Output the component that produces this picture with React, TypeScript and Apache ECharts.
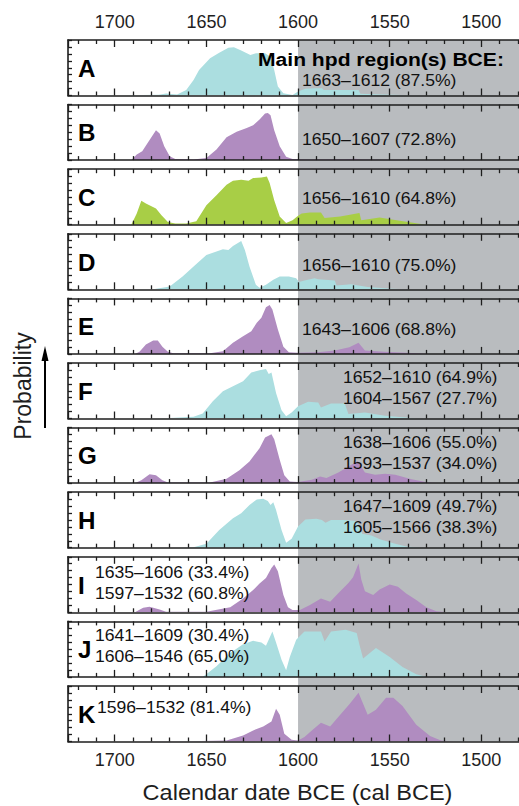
import React, { useEffect, useRef } from 'react';
import * as echarts from 'echarts';

const panelLabels = ['A', 'B', 'C', 'D', 'E', 'F', 'G', 'H', 'I', 'J', 'K'];

const panelA: [number, number][] = [[1725.5,0],[1700,0],[1694,0.005],[1685,0.01],[1676,0.015],[1672,0.035],[1669,0.025],[1666,0.02],[1661,0.1],[1657,0.28],[1654,0.46],[1648,0.67],[1643,0.77],[1638,0.86],[1635,0.87],[1631,0.81],[1626,0.73],[1623,0.76],[1618,0.76],[1615,0.7],[1613,0.46],[1611,0.16],[1608,0.04],[1603,0.01],[1600,0.07],[1596,0.12],[1591,0.13],[1587,0.13],[1586,0.1],[1575,0.1],[1567,0.1],[1566,0.03],[1555,0.02],[1548,0.015],[1540,0.005],[1532,0],[1450,0]];
const panelB: [number, number][] = [[1725.5,0],[1691,0],[1688,0.1],[1685,0.16],[1681,0.36],[1677.5,0.54],[1675.5,0.48],[1673,0.25],[1670,0.07],[1667,0.02],[1657,0.01],[1650,0.04],[1644.5,0.19],[1639,0.41],[1633.5,0.51],[1628,0.58],[1624.5,0.63],[1621,0.73],[1618,0.84],[1616.5,0.85],[1615,0.81],[1613,0.54],[1610,0.25],[1606.5,0.06],[1603,0.02],[1595,0.01],[1575,0.015],[1569,0.025],[1565,0.012],[1545,0.008],[1535,0],[1450,0]];
const panelC: [number, number][] = [[1725.5,0],[1691,0],[1688,0.2],[1685.5,0.43],[1683,0.38],[1677.5,0.29],[1674.5,0.17],[1671,0.05],[1667,0.02],[1661,0.02],[1655.5,0.06],[1650,0.35],[1644.5,0.53],[1639,0.72],[1635.5,0.79],[1631,0.81],[1627,0.79],[1624.5,0.84],[1620,0.85],[1617,0.87],[1615.5,0.75],[1613,0.44],[1610,0.15],[1606.5,0.03],[1603,0.08],[1600,0.16],[1598,0.2],[1593.5,0.22],[1587.5,0.22],[1585.5,0.12],[1577,0.15],[1566.5,0.21],[1565.5,0.08],[1555.5,0.13],[1544.5,0.07],[1532,0.01],[1526,0],[1450,0]];
const panelD: [number, number][] = [[1725.5,0],[1679,0],[1670,0.05],[1663,0.23],[1657,0.41],[1650,0.62],[1644.5,0.68],[1641,0.72],[1638,0.71],[1635.5,0.78],[1631,0.87],[1629,0.71],[1626.5,0.41],[1623,0.08],[1621,0.03],[1617.5,0.08],[1613.5,0.17],[1610,0.23],[1605,0.23],[1601,0.2],[1599.5,0.13],[1596.5,0.16],[1591,0.2],[1589,0.18],[1580,0.16],[1579,0.07],[1571,0.09],[1562,0.04],[1549,0.01],[1540,0],[1450,0]];
const panelE: [number, number][] = [[1725.5,0],[1689,0],[1686.5,0.04],[1683,0.17],[1679,0.24],[1676.5,0.24],[1674,0.13],[1671,0.04],[1668,0.01],[1648,0.01],[1641,0.05],[1635.5,0.2],[1630,0.32],[1625.5,0.41],[1622.5,0.56],[1620,0.65],[1617.5,0.84],[1615.5,0.88],[1614,0.8],[1611,0.44],[1608,0.13],[1605,0.03],[1600,0.02],[1589,0.03],[1580,0.06],[1572,0.12],[1567,0.2],[1563.5,0.06],[1553,0.04],[1535,0.01],[1528,0],[1450,0]];
const panelF: [number, number][] = [[1725.5,0],[1678,0],[1670,0.01],[1657,0.03],[1652,0.09],[1646.5,0.31],[1641,0.49],[1635.5,0.58],[1630,0.67],[1625.5,0.83],[1621,0.87],[1617.5,0.89],[1616,0.8],[1614.5,0.83],[1612,0.46],[1609,0.15],[1606.5,0.04],[1603.5,0.11],[1600,0.22],[1594.5,0.3],[1589,0.29],[1587.5,0.2],[1582,0.27],[1574.5,0.27],[1572.5,0.08],[1563.5,0.11],[1552.5,0.05],[1538,0.01],[1532,0],[1450,0]];
const panelG: [number, number][] = [[1725.5,0],[1689,0],[1685.5,0.05],[1681,0.16],[1677.5,0.14],[1674,0.05],[1671,0.01],[1648,0.01],[1639,0.08],[1632,0.23],[1626.5,0.39],[1621,0.63],[1618,0.82],[1614.5,0.88],[1613,0.79],[1610,0.42],[1607.5,0.14],[1604.5,0.03],[1600,0.02],[1592.5,0.06],[1588,0.12],[1584.5,0.09],[1578,0.19],[1572,0.31],[1567.5,0.4],[1563.5,0.19],[1558,0.15],[1552.5,0.17],[1547,0.15],[1538,0.07],[1529,0.01],[1522,0],[1450,0]];
const panelH: [number, number][] = [[1725.5,0],[1665,0],[1657,0.01],[1650,0.07],[1643,0.32],[1635.5,0.53],[1631,0.62],[1626.5,0.77],[1622.5,0.87],[1619,0.88],[1616.5,0.84],[1615,0.77],[1613.5,0.82],[1612,0.68],[1609,0.32],[1606.5,0.09],[1603.5,0.16],[1600,0.38],[1596,0.51],[1590,0.52],[1587,0.5],[1585,0.45],[1582,0.5],[1575,0.5],[1568,0.48],[1565,0.25],[1560,0.22],[1555,0.15],[1548,0.08],[1541,0.02],[1532,0],[1450,0]];
const panelI: [number, number][] = [[1725.5,0],[1689,0],[1684.5,0.08],[1681,0.1],[1675.5,0.05],[1672,0.01],[1650,0.01],[1637,0.09],[1630,0.25],[1624.5,0.4],[1621,0.52],[1617.5,0.62],[1614.5,0.8],[1613,0.86],[1611,0.74],[1608,0.31],[1605.5,0.09],[1603,0.04],[1599,0.04],[1593.5,0.13],[1587.5,0.25],[1582.5,0.19],[1577,0.38],[1572.5,0.53],[1570,0.63],[1567,0.88],[1565.5,0.59],[1563.5,0.38],[1559,0.31],[1555.5,0.41],[1550,0.5],[1545.5,0.46],[1541,0.34],[1535.5,0.22],[1530,0.09],[1524.5,0.02],[1518,0],[1450,0]];
const panelJ: [number, number][] = [[1725.5,0],[1652,0],[1644.5,0.19],[1637,0.43],[1630,0.59],[1624.5,0.65],[1620,0.62],[1617.5,0.56],[1614,0.82],[1612,0.62],[1609,0.31],[1606.5,0.12],[1604.5,0.36],[1601,0.67],[1596.5,0.82],[1587.5,0.82],[1585.5,0.64],[1582,0.82],[1574,0.85],[1568,0.79],[1566.5,0.58],[1564.5,0.33],[1557.5,0.52],[1550,0.36],[1543,0.18],[1535.5,0.05],[1530,0],[1450,0]];
const panelK: [number, number][] = [[1725.5,0],[1683,0],[1660,0.005],[1639,0.02],[1630,0.11],[1624.5,0.2],[1619,0.27],[1614.5,0.36],[1612,0.59],[1610,0.48],[1607.5,0.14],[1603.5,0.03],[1600,0.02],[1596.5,0.08],[1592.5,0.2],[1587.5,0.34],[1582.5,0.27],[1577,0.48],[1572,0.67],[1567,0.88],[1562,0.48],[1557.5,0.57],[1552,0.79],[1548,0.79],[1543,0.64],[1535.5,0.3],[1528,0.1],[1522,0.02],[1515,0],[1450,0]];

const panelData = [panelA, panelB, panelC, panelD, panelE, panelF, panelG, panelH, panelI, panelJ, panelK];

const CYAN = '#abdee0';
const PURPLE = '#b08cc0';
const GREEN = '#a8ce46';
const panelColors = [CYAN, PURPLE, GREEN, CYAN, PURPLE, CYAN, PURPLE, CYAN, PURPLE, CYAN, PURPLE];

const hpdRanges: string[][] = [
  ['1663–1612 (87.5%)'],
  ['1650–1607 (72.8%)'],
  ['1656–1610 (64.8%)'],
  ['1656–1610 (75.0%)'],
  ['1643–1606 (68.8%)'],
  ['1652–1610 (64.9%)', '1604–1567 (27.7%)'],
  ['1638–1606 (55.0%)', '1593–1537 (34.0%)'],
  ['1647–1609 (49.7%)', '1605–1566 (38.3%)'],
  ['1635–1606 (33.4%)', '1597–1532 (60.8%)'],
  ['1641–1609 (30.4%)', '1606–1546 (65.0%)'],
  ['1596–1532 (81.4%)'],
];

const shadedFrom = 1600;
const X_MIN = 1450;
const X_MAX = 1725.5;

// layout (pixels)
const hpdPos: [number, number][] = [[302, 80.3], [302, 139.7], [302, 198.7], [302, 266.2], [302, 330], [343, 377.5], [343, 442.8], [343, 507], [95, 572.5], [95, 635.8], [97, 707.5]];
const TOP0 = 40;
const PITCH = 64.6;
const PH = 55.5;
const GL = 68;
const GR = 7;
const FONT = '"Liberation Sans", Arial, Helvetica, sans-serif';
const INK = '#1e1e1e';

export default function App() {
  const ref = useRef<HTMLDivElement>(null);
  useEffect(() => {
    if (!ref.current) return;
    const chart = echarts.init(ref.current, undefined, { renderer: 'svg' });
    const n = panelData.length;
    const grids: any[] = [];
    const xAxes: any[] = [];
    const yAxes: any[] = [];
    const series: any[] = [];
    const lineStyle = { color: INK, width: 1.6 };
    const tickStyle = { color: INK, width: 1.3 };
    const fmt = (v: number) => (v % 50 === 0 && v >= 1500 && v <= 1700 ? String(v) : '');
    for (let i = 0; i < n; i++) {
      grids.push({ left: GL, right: GR, top: TOP0 + i * PITCH, height: PH, show: false });
      for (const pos of ['bottom', 'top']) {
        const showLabel = (pos === 'bottom' && i === n - 1) || (pos === 'top' && i === 0);
        xAxes.push({
          type: 'value', gridIndex: i, position: pos, min: X_MIN, max: X_MAX, interval: 50, inverse: true, z: 4,
          axisLine: { show: true, onZero: false, lineStyle },
          axisTick: { show: true, inside: true, length: 7, lineStyle: tickStyle },
          minorTick: { show: true, splitNumber: 5, length: 4, lineStyle: tickStyle },
          splitLine: { show: false }, minorSplitLine: { show: false },
          axisLabel: { show: showLabel, formatter: fmt, fontSize: 18, fontFamily: FONT, color: INK, margin: 9 },
        });
      }
      yAxes.push({
        type: 'value', gridIndex: i, min: 0, max: 1, interval: 0.125, z: 4,
        axisLine: { show: true, lineStyle },
        axisTick: { show: true, inside: true, length: 4, lineStyle: tickStyle },
        axisLabel: { show: false }, splitLine: { show: false },
      });
      series.push({
        type: 'line', xAxisIndex: 2 * i, yAxisIndex: i, data: panelData[i], symbol: 'none', silent: true, z: 2,
        lineStyle: { width: 0, opacity: 0 }, itemStyle: { color: panelColors[i] },
        areaStyle: { color: panelColors[i], opacity: 1 },
      });
    }
    // background grid for the shaded region
    grids.push({ left: GL, right: GR, top: TOP0, height: (n - 1) * PITCH + PH, show: false });
    xAxes.push({ type: 'value', gridIndex: n, min: X_MIN, max: X_MAX, inverse: true, show: false });
    yAxes.push({ type: 'value', gridIndex: n, min: 0, max: 1, show: false });
    series.push({
      type: 'line', xAxisIndex: 2 * n, yAxisIndex: n, data: [[shadedFrom, 0.5]], symbol: 'none', silent: true, z: 1,
      lineStyle: { width: 0, opacity: 0 },
      markArea: { silent: true, z: 1, itemStyle: { color: '#b9bcbf' }, data: [[{ xAxis: shadedFrom }, { xAxis: X_MIN }]] },
    });

    const graphics: any[] = [];
    for (let i = 0; i < n; i++) {
      graphics.push({
        type: 'text', x: 78, y: TOP0 + i * PITCH + 29, scaleX: 1.05, z: 10,
        style: { text: panelLabels[i], fontSize: 23, fontWeight: 'bold', fontFamily: FONT, fill: '#000', textAlign: 'left', textVerticalAlign: 'middle' },
      });
      hpdRanges[i].forEach((t, k) => {
        graphics.push({
          type: 'text', x: hpdPos[i][0], y: hpdPos[i][1] + k * 21, scaleX: 1.1, z: 10,
          style: { text: t, fontSize: 16, fontFamily: FONT, fill: '#111', textAlign: 'left', textVerticalAlign: 'middle' },
        });
      });
    }
    graphics.push({
      type: 'text', x: 258, y: 59, scaleX: 1.14, z: 10,
      style: { text: 'Main hpd region(s) BCE:', fontSize: 18.5, fontWeight: 'bold', fontFamily: FONT, fill: '#000', textAlign: 'left', textVerticalAlign: 'middle' },
    });
    graphics.push({
      type: 'text', x: 297.5, y: 792, scaleX: 1.07, z: 10,
      style: { text: 'Calendar date BCE (cal BCE)', fontSize: 22, fontFamily: FONT, fill: INK, textAlign: 'center', textVerticalAlign: 'middle' },
    });
    graphics.push({
      type: 'text', x: 22.5, y: 386, rotation: Math.PI / 2, z: 10,
      style: { text: 'Probability', fontSize: 23, fontFamily: FONT, fill: INK, textAlign: 'center', textVerticalAlign: 'middle' },
    });
    graphics.push({ type: 'line', z: 10, shape: { x1: 45, y1: 428, x2: 45, y2: 356 }, style: { stroke: '#000', lineWidth: 2 } });
    graphics.push({ type: 'polygon', z: 10, shape: { points: [[45, 346], [41.5, 361], [48.5, 361]] }, style: { fill: '#000' } });

    chart.setOption({
      animation: false,
      backgroundColor: '#fff',
      grid: grids,
      xAxis: xAxes,
      yAxis: yAxes,
      series,
      graphic: { elements: graphics },
    });
    return () => chart.dispose();
  }, []);
  return (
    <div style={{ position: 'absolute', left: 0, top: 0, width: 519, height: 806, overflow: 'hidden' }}>
      <div ref={ref} style={{ width: 580, height: 806 }} />
    </div>
  );
}
